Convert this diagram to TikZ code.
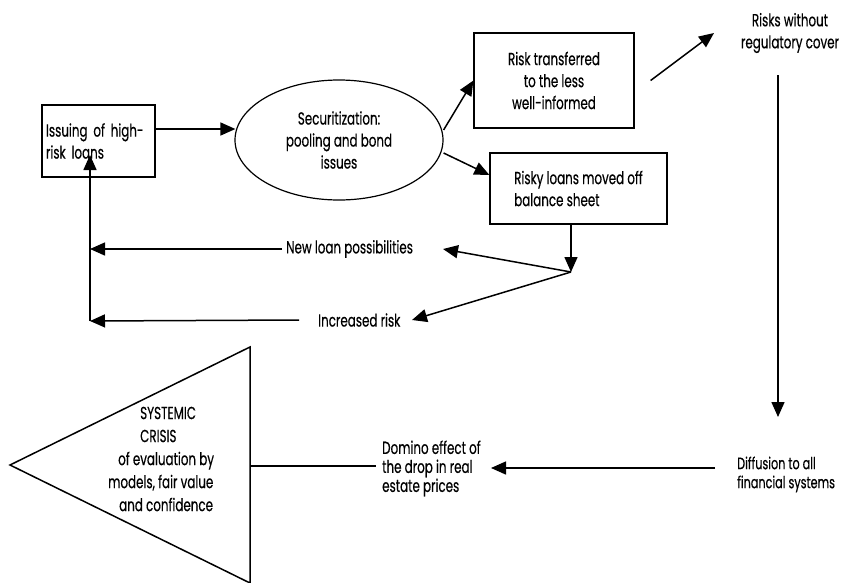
\documentclass[tikz,border=0pt]{standalone}
\usepackage{fontspec}
\setmainfont{Poppins}[FakeStretch=0.68,FakeBold=0.4]
\usetikzlibrary{arrows.meta,shapes.geometric}
\begin{document}
\begin{tikzpicture}[x=1pt,y=-1pt,
  every node/.style={font=\fontsize{17.5}{22}\selectfont, inner sep=0pt},
  box/.style={draw, line width=1.2pt, rectangle},
  arr/.style={line width=1.5pt, -{Triangle[length=15pt,width=13pt]}},
  ln/.style={line width=1.5pt},
  tight/.style={font=\fontsize{17.5}{19}\selectfont}]
\useasboundingbox[fill=white] (0,0) rectangle (844,582);

% nodes
\node[box, minimum width=113pt, minimum height=72pt, text width=105pt, align=left] (issue) at (98.5,141) {Issuing of high-\\risk loans};
\node[draw, ellipse, line width=1.2pt, minimum width=208pt, minimum height=120pt, align=center] (sec) at (339,140) {Securitization:\\pooling and bond\\issues};
\node[box, minimum width=160pt, minimum height=95pt, align=center] (rt) at (554,80.5) {Risk transferred\\to the less\\well-informed};
\node[box, minimum width=177pt, minimum height=71pt, align=left] (rl) at (578.5,188.5) {Risky loans moved off\\balance sheet};
\node[align=center] (rwc) at (790,33) {Risks without\\regulatory cover};
\node[font=\fontsize{16.5}{19}\selectfont, align=left, anchor=west] (diff) at (737,474.5) {Diffusion to all\\financial systems};
\node[tight, align=left, anchor=west] (dom) at (382,468.5) {Domino effect of\\the drop in real\\estate prices};
\node[anchor=west] (nlp) at (286,249) {New loan possibilities};
\node[anchor=west] (ir) at (318,320) {Increased risk};
\node[font=\fontsize{17.5}{23}\selectfont, align=left, anchor=west] (crisis) at (108,459)
  {\hspace*{32pt}SYSTEMIC\\\hspace*{32pt}CRISIS\\\hspace*{10pt}of evaluation by\\models, fair value\\\hspace*{11pt}and confidence};

% triangle
\coordinate (tl) at (10,465);
\coordinate (tt) at (250,347);
\coordinate (tb) at (250,583);
\coordinate (tr) at (250,466);
\draw[ln] (tl) -- (tt) -- (tb) -- cycle;

% free ends
\coordinate (rwcin) at (714,33);
\coordinate (vtop) at (778,75);
\coordinate (vbot) at (778,417);
\coordinate (domin) at (491,468);
\coordinate (J) at (571,272);
\coordinate (nlpin) at (443,249);
\coordinate (irin) at (412,320);
\coordinate (L1) at (90,249);
\coordinate (L2) at (90,321);
\coordinate (up) at (90,155);

% connectors
\draw[arr] ([yshift=12pt]issue.east) -- ([xshift=1pt,yshift=11pt]sec.west);
\draw[arr] ([yshift=10pt]sec.east) -- (rt.west);
\draw[arr] ([yshift=-13pt]sec.east) -- ([yshift=13.5pt]rl.west);
\draw[arr] ([xshift=16pt]rt.east) -- (rwcin);
\draw[arr] (vtop) -- (vbot);
\draw[arr] ([xshift=-22pt,yshift=6.5pt]diff.west) -- (domin);
\draw[ln, shorten >=6pt] (tr) -- (tr -| dom.west);
\draw[arr] (rl.south -| J) -- (J);
\draw[arr] (J) -- (nlpin);
\draw[arr] (J) -- (irin);
\draw[arr] ([xshift=-4pt]nlp.west) -- (L1);
\draw[arr] ([xshift=-19pt]ir.west) -- (L2);
\draw[arr] (L2) -- (up);
\end{tikzpicture}
\end{document}
